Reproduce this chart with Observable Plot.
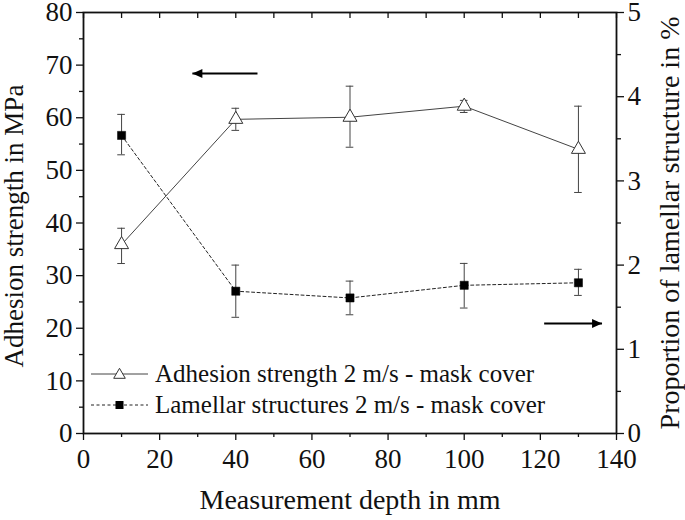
<!DOCTYPE html>
<html><head><meta charset="utf-8">
<script src="https://cdn.jsdelivr.net/npm/d3@7"></script>
<script src="https://cdn.jsdelivr.net/npm/@observablehq/plot@0.6"></script>
<style>
body{margin:0;background:#fff}
#wrap{position:relative;width:685px;height:520px}
#legend{position:absolute;left:91px;top:358px;font-family:"Liberation Serif",serif;font-size:25px;color:#111}
#legend .row{display:flex;align-items:center;height:31px;white-space:nowrap}
#legend svg{margin-right:7px}
</style></head><body><div id="wrap"></div>
<script>
// Data
const depth = [10, 40, 70, 100, 130];
const adhesion = [35.9, 59.7, 60.1, 62.2, 54.0];
const adhesionLow = [32.3, 57.6, 54.4, 61.0, 45.8];
const adhesionHigh = [39.0, 61.8, 66.0, 63.3, 62.2];
const lamellar = [3.54, 1.69, 1.61, 1.76, 1.79];      // %
const lamellarLow = [3.31, 1.38, 1.41, 1.49, 1.64];
const lamellarHigh = [3.79, 2.00, 1.81, 2.02, 1.95];
const xMajor = [0, 20, 40, 60, 80, 100, 120, 140];
const xMinor = [10, 30, 50, 70, 90, 110, 130];
const xTop = [0,10,20,30,40,50,60,70,80,90,100,110,120,130,140];
const yMajor = [0, 10, 20, 30, 40, 50, 60, 70, 80];
const yMinor = [5, 15, 25, 35, 45, 55, 65, 75];
const rMajor = [0, 1, 2, 3, 4, 5];
const rMinor = [0.5, 1.5, 2.5, 3.5, 4.5];
const seriesNames = ["Adhesion strength 2 m/s - mask cover", "Lamellar structures 2 m/s - mask cover"];
// annotation arrows: [tail x, head x, y (MPa units)]
const arrows = [{x1: 45.7, x2: 28.6, y: 68.4, dir: "left"}, {x1: 121, x2: 136.2, y: 20.9, dir: "right"}];

const k = 80 / 5; // right axis (%) to left axis (MPa) units
const A = depth.map((x, i) => ({x, y: adhesion[i], lo: adhesionLow[i], hi: adhesionHigh[i]}));
const L = depth.map((x, i) => ({x, y: lamellar[i] * k, lo: lamellarLow[i] * k, hi: lamellarHigh[i] * k}));
const cap = 1.0;

const headLeft = {draw(c){ c.moveTo(0,0); c.lineTo(10,-4.5); c.lineTo(10,4.5); c.closePath(); }};
const headRight = {draw(c){ c.moveTo(0,0); c.lineTo(-10,-4.5); c.lineTo(-10,4.5); c.closePath(); }};

const font = "Liberation Serif, serif";
const fs = 27;
const chart = Plot.plot({
  width: 685, height: 520,
  marginLeft: 83, marginRight: 69, marginTop: 12, marginBottom: 87,
  style: {fontFamily: font, fontSize: fs + "px", color: "#111", background: "white"},
  x: {domain: [0, 140]},
  y: {domain: [0, 80]},
  marks: [
    // axes
    Plot.axisX({anchor: "bottom", ticks: xMajor, tickSize: 7, tickPadding: 8, fontSize: fs, label: null, strokeWidth: 1.3}),
    Plot.axisX({anchor: "bottom", ticks: xMinor, tickSize: 4, tickFormat: () => "", label: null, strokeWidth: 1.3}),
    Plot.axisX({anchor: "top", ticks: xTop, tickSize: 5, dy: 5, tickFormat: () => "", label: null, strokeWidth: 1.3}),
    Plot.axisY({anchor: "left", ticks: yMajor, tickSize: 7, tickPadding: 4, fontSize: fs, label: null, strokeWidth: 1.3}),
    Plot.axisY({anchor: "left", ticks: yMinor, tickSize: 4, tickFormat: () => "", label: null, strokeWidth: 1.3}),
    Plot.axisY({anchor: "right", ticks: rMajor.map(v => v * k), tickFormat: d => d / k, tickSize: 7, tickPadding: 4, fontSize: fs, label: null, strokeWidth: 1.3}),
    Plot.axisY({anchor: "right", ticks: rMinor.map(v => v * k), tickFormat: () => "", tickSize: 4, label: null, strokeWidth: 1.3}),
    Plot.frame({stroke: "#111", strokeWidth: 1.8}),
    // axis titles
    Plot.text(["Measurement depth in mm"], {frameAnchor: "bottom", dy: 75, textAnchor: "middle", text: d => d, fontSize: 28}),
    Plot.text(["Adhesion strength in MPa"], {frameAnchor: "left", dx: -69, dy: 3, rotate: -90, textAnchor: "middle", text: d => d, fontSize: 27}),
    Plot.text(["Proportion of lamellar structure in %"], {frameAnchor: "right", dx: 54, dy: 0, rotate: -90, textAnchor: "middle", text: d => d, fontSize: 28}),
    // error bars
    Plot.ruleX(A, {x: "x", y1: "lo", y2: "hi", stroke: "#444", strokeWidth: 1}),
    Plot.ruleY(A, {y: "lo", x1: d => d.x - cap, x2: d => d.x + cap, stroke: "#444", strokeWidth: 1}),
    Plot.ruleY(A, {y: "hi", x1: d => d.x - cap, x2: d => d.x + cap, stroke: "#444", strokeWidth: 1}),
    Plot.ruleX(L, {x: "x", y1: "lo", y2: "hi", stroke: "#444", strokeWidth: 1}),
    Plot.ruleY(L, {y: "lo", x1: d => d.x - cap, x2: d => d.x + cap, stroke: "#444", strokeWidth: 1}),
    Plot.ruleY(L, {y: "hi", x1: d => d.x - cap, x2: d => d.x + cap, stroke: "#444", strokeWidth: 1}),
    // lines
    Plot.line(A, {x: "x", y: "y", stroke: "#444", strokeWidth: 1}),
    Plot.line(L, {x: "x", y: "y", stroke: "#222", strokeWidth: 1, strokeDasharray: "3,2.5"}),
    // markers
    Plot.dot(A, {x: "x", y: "y", symbol: "triangle", r: 5.2, fill: "white", stroke: "#333", strokeWidth: 1}),
    Plot.dot(L, {x: "x", y: "y", symbol: "square", r: 4.6, fill: "black", stroke: "black", strokeWidth: 0.5}),
    // arrows
    Plot.link(arrows, {x1: "x1", x2: "x2", y1: "y", y2: "y", stroke: "black", strokeWidth: 2}),
    Plot.dot(arrows.filter(d => d.dir === "left"), {x: "x2", y: "y", symbol: headLeft, r: 5, fill: "black", stroke: "none"}),
    Plot.dot(arrows.filter(d => d.dir === "right"), {x: "x2", y: "y", symbol: headRight, r: 5, fill: "black", stroke: "none"})
  ]
});
const wrap = document.getElementById("wrap");
wrap.appendChild(chart);

// legend inside the plot area
const legend = document.createElement("div");
legend.id = "legend";
legend.innerHTML = `
<div class="row"><svg width="57" height="16"><line x1="0" x2="57" y1="8" y2="8" stroke="#444" stroke-width="1"/><path d="M28.5,2.3L34.3,12.3L22.7,12.3Z" fill="white" stroke="#333"/></svg><span>${seriesNames[0]}</span></div>
<div class="row"><svg width="57" height="16"><line x1="0" x2="57" y1="8" y2="8" stroke="#222" stroke-width="1" stroke-dasharray="3,2.5"/><rect x="24.5" y="4" width="8" height="8" fill="black"/></svg><span>${seriesNames[1]}</span></div>`;
wrap.appendChild(legend);
</script>
</body></html>
